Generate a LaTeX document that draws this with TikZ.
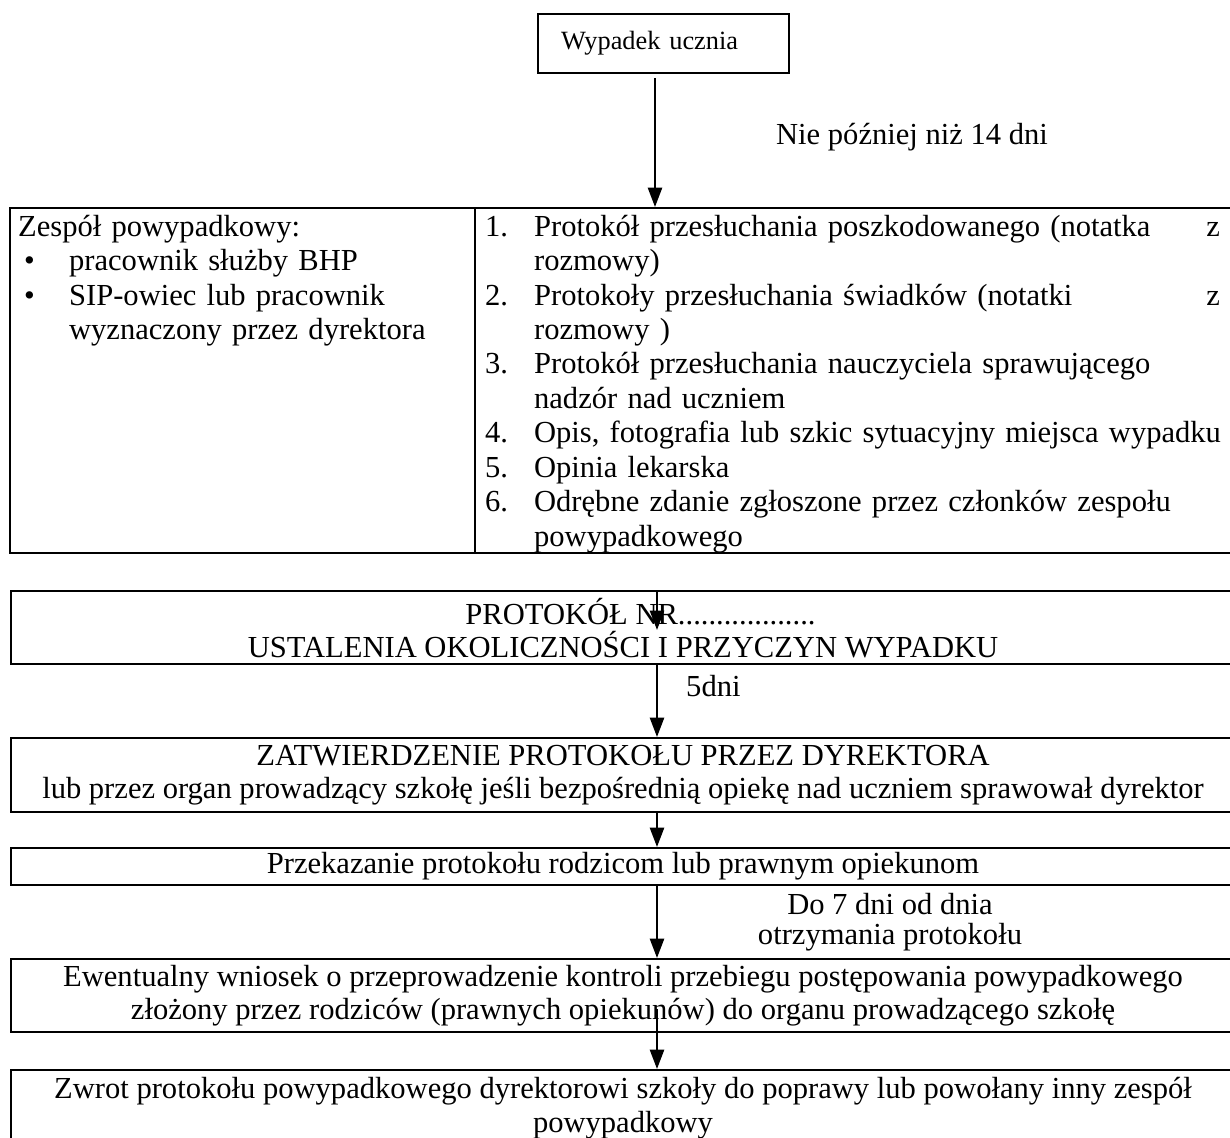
\documentclass[tikz,border=0pt]{standalone}
\usepackage{fontspec}
\setmainfont{Liberation Serif}
\usetikzlibrary{arrows.meta,calc}
\newcommand{\poz}[2]{\makebox[0.98cm][l]{#1}#2}
\newcommand{\dalej}[1]{\hspace*{0.98cm}#1}
\newcommand{\punkt}[1]{\makebox[1.02cm][l]{\hspace{0.12cm}\textbullet}#1}
\begin{document}
\begin{tikzpicture}[x=0.02cm, y=-0.02cm,
  box/.style={draw, line width=1.3pt, inner sep=0pt, anchor=north west},
  wide/.style={box, minimum width=24.48cm, align=center, font=\fontsize{17.4}{18.8}\selectfont},
  cell/.style={box, inner xsep=0.2cm, text height=0.56cm, text depth=6.34cm, align=left, font=\fontsize{17.4}{19.6}\selectfont},
  arr/.style={line width=1.3pt, -{Triangle[width=8pt,length=11pt]}},
  lbl/.style={font=\fontsize{17.4}{17}\selectfont, align=center}]
  \fill[white] (0,0) rectangle (1230,1137);
  \useasboundingbox (0,0) rectangle (1230,1137);
  \clip (0,0) rectangle (1230,1137);
  \coordinate (os0) at (655,0);
  \coordinate (os) at (657,0);
  % start
  \node[box, inner xsep=0.46cm, text width=4.1cm, minimum height=1.18cm, align=left, font=\fontsize{15}{17}\selectfont] (wyp) at (537,13) {Wypadek ucznia};
  \node[lbl] (termin) at (912,137) {Nie później niż 14 dni};
  % zespol i dokumenty
  \node[cell, inner xsep=0.16cm, text width=8.98cm] (zespol) at (9,207) {Zespół powypadkowy:\\
    \punkt{pracownik służby BHP}\\
    \punkt{SIP-owiec lub pracownik}\\
    \hspace*{1.02cm}wyznaczony przez dyrektora};
  \node[cell, text width=14.92cm] (lista) at (474,207) {%
    \poz{1.}{\hbox to 13.72cm{Protokół przesłuchania poszkodowanego (notatka\hfill z}}\\
    \dalej{rozmowy)}\\
    \poz{2.}{\hbox to 13.72cm{Protokoły przesłuchania świadków (notatki\hfill z}}\\
    \dalej{rozmowy )}\\
    \poz{3.}{Protokół przesłuchania nauczyciela sprawującego}\\
    \dalej{nadzór nad uczniem}\\
    \poz{4.}{Opis, fotografia lub szkic sytuacyjny miejsca wypadku}\\
    \poz{5.}{Opinia lekarska}\\
    \poz{6.}{Odrębne zdanie zgłoszone przez członków zespołu}\\
    \dalej{powypadkowego}};
  % kolejne etapy
  \node[wide, minimum height=1.46cm] (prot) at (10,590) {\hspace*{0.7cm}PROTOKÓŁ NR..................\\USTALENIA OKOLICZNOŚCI I PRZYCZYN WYPADKU};
  \node[lbl, anchor=west] (piec) at (680,686) {5dni};
  \node[wide, minimum height=1.48cm] (zatw) at (10,737) {ZATWIERDZENIE PROTOKOŁU PRZEZ DYREKTORA\\lub przez organ prowadzący szkołę jeśli bezpośrednią opiekę nad uczniem sprawował dyrektor};
  \node[wide, minimum height=0.74cm] (przek) at (10,847) {Przekazanie protokołu rodzicom lub prawnym opiekunom};
  \node[lbl] (siedem) at (890,922) {Do 7 dni od dnia\\otrzymania protokołu};
  \node[wide, minimum height=1.46cm] (wniosek) at (10,958) {Ewentualny wniosek o przeprowadzenie kontroli przebiegu postępowania powypadkowego\\złożony przez rodziców (prawnych opiekunów) do organu prowadzącego szkołę};
  \node[wide, minimum height=1.52cm] (zwrot) at (10,1069) {Zwrot protokołu powypadkowego dyrektorowi szkoły do poprawy lub powołany inny zespół\\powypadkowy};
  % strzalki
  \draw[arr, shorten <=2.3pt] (wyp.south -| os0) -- (lista.north -| os0);
  \draw[arr] (prot.north -| os) -- ($(prot.north -| os)+(0,40)$);
  \draw[arr] (prot.south -| os) -- (zatw.north -| os);
  \draw[arr] (zatw.south -| os) -- (przek.north -| os);
  \draw[arr] (przek.south -| os) -- (wniosek.north -| os);
  \draw[arr] ($(wniosek.south -| os)+(0,-24)$) -- (zwrot.north -| os);
\end{tikzpicture}
\end{document}
